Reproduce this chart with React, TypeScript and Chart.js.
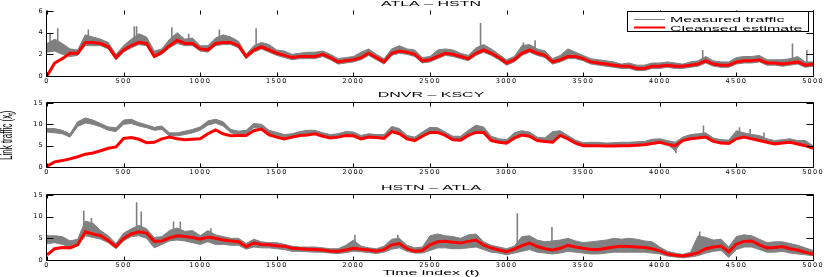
import React, { useEffect, useRef } from "react";
import { Chart, registerables } from "chart.js";

Chart.register(...registerables);

// ---------- data ----------
const TIME_STEP = 50;
const TIME = Array.from({ length: 101 }, (_, i) => i * TIME_STEP);
const X_TICKS = [0, 500, 1000, 1500, 2000, 2500, 3000, 3500, 4000, 4500, 5000];
const Y_TICKS_1 = [0, 2, 4, 6];
const Y_TICKS_2 = [0, 5, 10, 15];
const Y_TICKS_3 = [0, 5, 10, 15];

const TITLES = ["ATLA \u2013 HSTN", "DNVR \u2013 KSCY", "HSTN \u2013 ATLA"];
const LEGEND_LABELS = ["Measured traffic", "Cleansed estimate"];
const X_LABEL = "Time index (t)";
const Y_LABEL_MAIN = "Link traffic (x";
const Y_LABEL_SUB = "t";
const Y_LABEL_END = ")";

// ATLA - HSTN
const RED_1 = [
  0.0, 1.2, 1.6, 2.1, 2.1, 3.1, 3.1, 3.0, 2.7, 1.7,
  2.4, 2.8, 3.1, 3.0, 1.8, 2.2, 2.8, 3.3, 3.0, 3.0,
  2.5, 2.4, 3.0, 3.1, 3.1, 2.8, 1.8, 2.4, 2.7, 2.4,
  2.1, 1.9, 1.7, 1.8, 1.8, 1.8, 2.0, 1.7, 1.3, 1.4,
  1.5, 1.7, 2.1, 1.7, 1.3, 2.1, 2.3, 2.2, 2.0, 1.4,
  1.5, 1.8, 2.1, 2.0, 1.8, 1.6, 2.1, 2.4, 2.1, 1.7,
  1.2, 1.5, 2.1, 2.4, 2.1, 1.9, 1.3, 1.5, 1.8, 1.8,
  1.6, 1.3, 1.2, 1.1, 1.0, 0.9, 0.9, 0.7, 0.7, 0.9,
  0.9, 1.0, 0.9, 0.9, 1.0, 1.1, 1.4, 1.1, 1.0, 1.0,
  1.3, 1.4, 1.4, 1.5, 1.2, 1.2, 1.1, 1.2, 1.3, 1.0,
  1.1,
];
const LO_1 = [
  2.2, 2.3, 2.0, 1.8, 1.9, 2.8, 2.8, 2.8, 2.5, 1.5,
  2.2, 2.6, 2.9, 2.8, 1.7, 2.0, 2.6, 3.0, 2.8, 2.8,
  2.3, 2.2, 2.8, 2.9, 2.9, 2.6, 1.6, 2.2, 2.5, 2.2,
  1.9, 1.7, 1.5, 1.6, 1.6, 1.6, 1.8, 1.5, 1.1, 1.2,
  1.3, 1.5, 1.9, 1.5, 1.1, 1.9, 2.1, 2.0, 1.8, 1.2,
  1.3, 1.6, 1.9, 1.8, 1.6, 1.4, 1.9, 2.2, 1.9, 1.5,
  1.0, 1.3, 1.9, 2.2, 1.9, 1.7, 1.1, 1.3, 1.6, 1.6,
  1.4, 1.1, 1.0, 0.9, 0.8, 0.7, 0.7, 0.5, 0.5, 0.7,
  0.7, 0.8, 0.7, 0.7, 0.8, 0.9, 1.2, 0.9, 0.8, 0.8,
  1.1, 1.2, 1.2, 1.3, 1.0, 1.0, 0.9, 1.0, 1.1, 0.8,
  0.9,
];
const HI_1 = [
  3.0, 3.4, 3.0, 2.5, 2.4, 3.8, 3.6, 3.4, 3.1, 2.0,
  2.8, 3.4, 3.9, 3.6, 2.3, 2.5, 3.4, 4.0, 3.4, 3.5,
  2.8, 2.8, 3.5, 3.8, 3.6, 3.2, 2.0, 2.8, 3.1, 2.9,
  2.4, 2.3, 2.0, 2.1, 2.2, 2.2, 2.3, 2.0, 1.6, 1.7,
  1.8, 2.2, 2.5, 2.0, 1.6, 2.5, 2.8, 2.5, 2.4, 1.7,
  1.8, 2.4, 2.5, 2.4, 2.1, 1.9, 2.6, 2.9, 2.5, 2.0,
  1.5, 1.8, 2.8, 2.9, 2.5, 2.3, 1.6, 1.9, 2.5, 2.2,
  1.9, 1.6, 1.5, 1.4, 1.3, 1.1, 1.2, 1.0, 1.0, 1.2,
  1.2, 1.3, 1.2, 1.1, 1.3, 1.4, 1.8, 1.4, 1.3, 1.3,
  1.7, 1.8, 1.8, 1.9, 1.5, 1.5, 1.5, 1.6, 1.8, 1.3,
  1.3,
];
const SPIKE_T_1 = [20, 70, 270, 570, 585, 815, 925, 1125, 1365, 2830, 3110, 3186, 4280, 4866, 4960];
const SPIKE_BASE_1 = [2.4, 2.5, 3.0, 3.0, 3.0, 3.0, 3.0, 3.0, 2.6, 2.3, 2.2, 2.3, 1.4, 1.3, 1.1];
const SPIKE_TOP_1 = [3.9, 4.4, 4.3, 4.6, 4.6, 4.5, 3.9, 4.3, 4.4, 4.9, 3.1, 3.3, 2.4, 3.0, 2.4];

// DNVR - KSCY
const RED_2 = [
  0.2, 1.2, 1.5, 1.9, 2.4, 3.0, 3.3, 3.8, 4.4, 4.7,
  6.7, 6.9, 6.5, 5.7, 5.8, 6.6, 7.0, 6.6, 6.4, 6.5,
  6.6, 7.8, 8.7, 7.8, 7.3, 7.4, 7.4, 8.5, 8.9, 7.5,
  7.0, 6.6, 7.0, 7.4, 7.5, 7.8, 7.2, 6.8, 7.0, 7.4,
  7.3, 6.6, 7.0, 6.9, 6.7, 8.3, 7.8, 6.6, 6.2, 7.2,
  8.1, 8.1, 7.4, 6.4, 6.3, 7.4, 8.1, 8.1, 6.2, 5.8,
  5.6, 6.8, 7.5, 7.2, 6.2, 6.0, 5.8, 7.4, 6.6, 5.6,
  5.0, 5.0, 5.0, 4.9, 4.9, 5.0, 5.0, 5.1, 5.2, 5.5,
  5.8, 5.3, 5.0, 6.2, 6.6, 6.8, 7.0, 6.0, 5.6, 5.5,
  6.6, 7.0, 6.6, 6.2, 5.8, 5.4, 5.6, 5.8, 5.4, 5.0,
  4.4,
];
const LO_2 = [
  8.2, 8.0, 7.8, 7.0, 9.5, 10.3, 10.0, 9.4, 8.6, 8.3,
  10.0, 10.2, 9.6, 9.2, 8.6, 8.8, 7.2, 7.3, 7.6, 8.0,
  8.6, 9.8, 10.3, 9.6, 8.0, 7.6, 7.8, 9.2, 9.0, 7.8,
  7.3, 6.9, 7.0, 7.4, 7.5, 7.8, 7.2, 6.8, 7.0, 7.4,
  7.3, 6.6, 7.0, 6.9, 6.7, 8.3, 7.8, 6.6, 6.2, 7.2,
  8.1, 8.1, 7.4, 6.4, 6.3, 7.4, 8.1, 8.1, 6.2, 5.8,
  5.6, 6.8, 7.5, 7.2, 6.2, 6.0, 5.8, 7.4, 6.6, 5.6,
  5.0, 5.0, 5.0, 4.9, 4.9, 5.0, 5.0, 5.1, 5.2, 5.5,
  5.8, 5.3, 3.8, 6.2, 6.6, 6.8, 7.0, 6.0, 5.6, 5.5,
  6.6, 7.0, 6.6, 6.2, 5.8, 5.4, 5.6, 5.8, 5.4, 5.0,
  4.4,
];
const HI_2 = [
  9.0, 9.0, 8.6, 7.8, 10.6, 11.5, 11.0, 10.2, 9.4, 9.2,
  11.0, 11.2, 10.4, 9.9, 9.3, 9.6, 8.0, 8.0, 8.4, 8.8,
  9.4, 10.8, 11.2, 10.6, 8.8, 8.4, 8.6, 10.2, 10.0, 8.6,
  8.1, 7.6, 7.8, 8.3, 8.6, 8.6, 8.0, 7.6, 7.8, 8.3,
  8.2, 7.4, 7.8, 7.6, 7.6, 9.5, 9.0, 7.4, 7.0, 8.2,
  9.3, 9.2, 8.2, 7.2, 7.2, 8.6, 9.8, 9.4, 7.2, 6.6,
  6.4, 8.0, 8.5, 8.2, 7.0, 6.8, 8.3, 8.5, 7.4, 6.3,
  5.7, 5.8, 5.8, 5.6, 5.7, 5.8, 5.8, 5.9, 6.0, 6.5,
  6.6, 6.2, 5.8, 7.0, 7.6, 7.8, 8.0, 6.8, 6.4, 6.3,
  8.5, 8.0, 7.6, 7.4, 6.6, 6.2, 6.4, 6.6, 6.2, 6.2,
  5.0,
];
const SPIKE_T_2 = [4105, 4285, 4520, 4590, 4680];
const SPIKE_BASE_2 = [5.0, 7.5, 7.0, 7.0, 6.5];
const SPIKE_TOP_2 = [3.2, 9.7, 9.3, 8.9, 8.1];

// HSTN - ATLA
const RED_3 = [
  1.2, 2.6, 2.9, 2.8, 3.5, 6.5, 6.0, 5.6, 4.5, 3.1,
  5.0, 6.0, 6.5, 6.2, 4.3, 4.4, 5.1, 5.6, 5.4, 5.2,
  4.8, 5.3, 5.0, 4.6, 4.4, 4.2, 3.1, 3.9, 3.6, 3.5,
  3.3, 3.2, 2.7, 2.6, 2.5, 2.4, 2.3, 2.0, 2.0, 2.3,
  2.7, 2.5, 2.3, 2.0, 2.4, 3.5, 3.8, 2.6, 2.0, 2.2,
  3.5, 4.2, 4.3, 4.1, 3.9, 4.3, 4.6, 3.4, 2.8, 2.3,
  1.9, 2.5, 3.3, 3.9, 3.1, 2.6, 2.3, 2.7, 3.4, 3.0,
  2.7, 2.4, 2.4, 2.7, 3.0, 3.2, 3.1, 3.0, 2.9, 2.6,
  2.1, 1.4, 1.1, 0.9, 1.2, 1.7, 2.6, 3.0, 3.2, 1.9,
  3.7, 4.3, 4.4, 3.5, 2.8, 2.9, 3.1, 2.6, 2.3, 1.8,
  1.4,
];
const LO_3 = [
  3.8, 4.0, 3.6, 3.0, 3.4, 5.6, 5.2, 4.8, 4.0, 2.6,
  4.4, 5.4, 5.6, 5.0, 2.8, 3.6, 4.4, 4.6, 4.4, 4.0,
  3.6, 4.2, 3.6, 3.6, 3.4, 3.4, 2.5, 3.0, 2.8, 2.8,
  2.6, 2.4, 2.0, 2.0, 1.9, 1.8, 1.8, 1.6, 1.5, 1.7,
  2.0, 1.9, 1.7, 1.5, 1.8, 2.5, 2.8, 2.0, 1.6, 1.6,
  2.2, 2.8, 2.8, 2.6, 2.6, 2.8, 3.0, 2.4, 1.8, 1.6,
  1.2, 1.6, 2.0, 2.4, 1.8, 1.6, 1.4, 1.6, 2.0, 1.8,
  1.6, 1.4, 1.4, 1.6, 1.8, 1.8, 1.8, 1.8, 1.8, 1.6,
  1.4, 0.9, 0.7, 0.5, 0.7, 1.0, 1.6, 2.0, 2.2, 0.6,
  2.4, 3.0, 3.0, 2.4, 1.8, 1.8, 2.0, 1.6, 1.4, 1.2,
  1.0,
];
const HI_3 = [
  5.6, 5.6, 5.4, 4.4, 4.8, 9.0, 8.5, 6.8, 5.6, 3.8,
  6.2, 7.2, 8.0, 7.2, 5.2, 5.4, 6.8, 7.4, 6.6, 6.8,
  5.6, 6.8, 5.8, 5.4, 5.0, 5.0, 3.8, 4.8, 4.2, 4.0,
  4.0, 3.6, 3.2, 3.0, 3.0, 3.0, 2.8, 2.6, 2.6, 3.4,
  4.6, 3.2, 2.8, 2.6, 3.2, 4.8, 5.0, 3.4, 2.8, 3.0,
  5.6, 6.0, 5.6, 5.4, 5.0, 5.8, 6.0, 4.2, 3.4, 3.0,
  2.6, 3.2, 5.4, 5.6, 4.6, 4.2, 4.4, 4.6, 5.0, 4.4,
  4.0, 4.2, 4.4, 4.6, 5.0, 4.8, 5.0, 4.8, 4.4, 4.2,
  3.0, 2.0, 1.6, 1.3, 1.8, 5.6, 5.2, 4.6, 4.8, 3.0,
  5.4, 5.8, 5.6, 4.8, 4.0, 4.2, 4.2, 3.8, 3.4, 2.8,
  2.2,
];
const SPIKE_T_3 = [240, 290, 585, 615, 826, 870, 1070, 2010, 2290, 3070, 3296, 4261];
const SPIKE_BASE_3 = [5.0, 6.0, 6.0, 6.0, 5.0, 5.0, 5.0, 3.0, 3.5, 2.5, 2.3, 3.0];
const SPIKE_TOP_3 = [11.4, 9.7, 13.3, 11.2, 8.9, 8.9, 7.3, 5.8, 5.8, 10.8, 7.6, 6.6];

// ---------- styling ----------
const GRAY = "#808080";
const RED = "#ff0000";
const TEXT_FONT = '"Liberation Sans", Arial, sans-serif';
const TICK_FONT = "DejaVu Sans";
const STRETCH = 2.0;

type PanelCfg = {
  top: number;
  height: number;
  padTop: number;
  xScaleH: number;
  yMax: number;
  yTicks: number[];
  red: number[];
  lo: number[];
  hi: number[];
  spikeT: number[];
  spikeBase: number[];
  spikeTop: number[];
  title: string;
  titleY: number;
  topBorder: boolean;
  legend: boolean;
  yLabel: boolean;
  xLabel: boolean;
};

const PANELS: PanelCfg[] = [
  {
    top: 0, height: 88, padTop: 11, xScaleH: 12, yMax: 6, yTicks: Y_TICKS_1,
    red: RED_1, lo: LO_1, hi: HI_1, spikeT: SPIKE_T_1, spikeBase: SPIKE_BASE_1, spikeTop: SPIKE_TOP_1,
    title: TITLES[0], titleY: 5.5, topBorder: false, legend: true, yLabel: false, xLabel: false,
  },
  {
    top: 88, height: 92, padTop: 15, xScaleH: 13, yMax: 15, yTicks: Y_TICKS_2,
    red: RED_2, lo: LO_2, hi: HI_2, spikeT: SPIKE_T_2, spikeBase: SPIKE_BASE_2, spikeTop: SPIKE_TOP_2,
    title: TITLES[1], titleY: 9.3, topBorder: true, legend: false, yLabel: true, xLabel: false,
  },
  {
    top: 180, height: 97, padTop: 15, xScaleH: 17, yMax: 15, yTicks: Y_TICKS_3,
    red: RED_3, lo: LO_3, hi: HI_3, spikeT: SPIKE_T_3, spikeBase: SPIKE_BASE_3, spikeTop: SPIKE_TOP_3,
    title: TITLES[2], titleY: 10, topBorder: true, legend: false, yLabel: false, xLabel: true,
  },
];

function stretchText(
  ctx: CanvasRenderingContext2D, text: string, x: number, y: number,
  size: number, sx: number, align: CanvasTextAlign = "left"
) {
  ctx.save();
  ctx.font = `${size}px ${TEXT_FONT}`;
  (ctx as any).letterSpacing = "0px";
  ctx.fillStyle = "#000";
  ctx.textBaseline = "alphabetic";
  ctx.textAlign = align;
  ctx.translate(x, y);
  ctx.scale(sx, 1);
  ctx.fillText(text, 0, 0);
  ctx.restore();
}

function makeDeco(cfg: PanelCfg) {
  return {
    id: "deco",
    beforeDraw(chart: any) {
      (chart.ctx as any).letterSpacing = "1.3px";
    },
    afterDraw(chart: any) {
      const ctx: CanvasRenderingContext2D = chart.ctx;
      const a = chart.chartArea;
      const xs = chart.scales.x;
      const ys = chart.scales.y;
      ctx.save();
      (ctx as any).letterSpacing = "0px";
      const L = Math.round(a.left) - 0.5;
      const R = Math.round(a.right) + 0.5;
      const T = Math.round(a.top) - 0.5;
      const B = Math.round(a.bottom) + 0.5;
      ctx.strokeStyle = "#000";
      ctx.lineWidth = 1;
      ctx.beginPath();
      ctx.moveTo(L, T);
      ctx.lineTo(L, B);
      ctx.lineTo(R, B);
      ctx.lineTo(R, T);
      if (cfg.topBorder) ctx.lineTo(L, T);
      ctx.stroke();
      ctx.beginPath();
      for (const v of X_TICKS) {
        const px = Math.round(xs.getPixelForValue(v)) + 0.5;
        ctx.moveTo(px, B);
        ctx.lineTo(px, B - 4);
        ctx.moveTo(px, T);
        ctx.lineTo(px, T + 4);
      }
      for (const v of cfg.yTicks) {
        const py = Math.round(ys.getPixelForValue(v)) + 0.5;
        ctx.moveTo(L, py);
        ctx.lineTo(L + 7, py);
        ctx.moveTo(R, py);
        ctx.lineTo(R - 7, py);
      }
      ctx.stroke();
      ctx.restore();

      // title
      stretchText(ctx, cfg.title, (a.left + a.right) / 2 + 1, cfg.titleY, 8, STRETCH, "center");

      if (cfg.legend) {
        ctx.save();
        ctx.fillStyle = "#fff";
        ctx.fillRect(627.5, 11.5, 181, 20);
        ctx.strokeStyle = "#000";
        ctx.lineWidth = 1;
        ctx.strokeRect(627.5, 11.5, 181, 20);
        ctx.strokeStyle = GRAY;
        ctx.lineWidth = 1;
        ctx.beginPath();
        ctx.moveTo(634, 19.5);
        ctx.lineTo(665, 19.5);
        ctx.stroke();
        ctx.strokeStyle = RED;
        ctx.lineWidth = 2;
        ctx.beginPath();
        ctx.moveTo(634, 27.5);
        ctx.lineTo(665, 27.5);
        ctx.stroke();
        ctx.restore();
        stretchText(ctx, LEGEND_LABELS[0], 670, 22, 8, 2.0, "left");
        stretchText(ctx, LEGEND_LABELS[1], 670, 30.5, 8, 2.0, "left");
      }

      if (cfg.xLabel) {
        stretchText(ctx, X_LABEL, (a.left + a.right) / 2 + 1, cfg.height - 2, 8, STRETCH, "center");
      }

      if (cfg.yLabel) {
        ctx.save();
        ctx.fillStyle = "#000";
        (ctx as any).letterSpacing = "0px";
        ctx.translate(12, 72);
        ctx.rotate(-Math.PI / 2);
        ctx.scale(1, STRETCH);
        ctx.textAlign = "left";
        ctx.textBaseline = "alphabetic";
        ctx.font = `8px ${TEXT_FONT}`;
        ctx.fillText(Y_LABEL_MAIN, 0, 0);
        const w1 = ctx.measureText(Y_LABEL_MAIN).width;
        ctx.font = `6px ${TEXT_FONT}`;
        ctx.fillText(Y_LABEL_SUB, w1, 2);
        const w2 = ctx.measureText(Y_LABEL_SUB).width;
        ctx.font = `8px ${TEXT_FONT}`;
        ctx.fillText(Y_LABEL_END, w1 + w2, 0);
        ctx.restore();
      }
    },
  };
}

function Panel({ cfg }: { cfg: PanelCfg }) {
  const ref = useRef<HTMLCanvasElement>(null);
  useEffect(() => {
    const canvas = ref.current;
    if (!canvas) return;
    const pts = (arr: number[]) => TIME.map((t, i) => ({ x: t, y: arr[i] }));
    const spikes: any[] = [];
    cfg.spikeT.forEach((t, i) => {
      spikes.push({ x: t, y: cfg.spikeBase[i] });
      spikes.push({ x: t, y: cfg.spikeTop[i] });
      spikes.push({ x: t, y: null });
    });
    const tickFont = { family: TICK_FONT, size: 6.5 };
    const chart = new Chart(canvas, {
      type: "line",
      data: {
        datasets: [
          {
            label: LEGEND_LABELS[1],
            data: pts(cfg.red),
            borderColor: RED,
            borderWidth: 3,
            pointRadius: 0,
            fill: false,
            tension: 0,
          },
          {
            label: LEGEND_LABELS[0],
            data: pts(cfg.hi),
            borderColor: GRAY,
            backgroundColor: GRAY,
            borderWidth: 1,
            pointRadius: 0,
            fill: "+1",
            tension: 0,
          },
          {
            label: LEGEND_LABELS[0] + " (low)",
            data: pts(cfg.lo),
            borderColor: GRAY,
            borderWidth: 1,
            pointRadius: 0,
            fill: false,
            tension: 0,
          },
          {
            label: LEGEND_LABELS[0] + " (peaks)",
            data: spikes,
            borderColor: GRAY,
            borderWidth: 1.6,
            pointRadius: 0,
            fill: false,
            spanGaps: false,
            tension: 0,
          },
        ],
      },
      options: {
        responsive: false,
        animation: false,
        devicePixelRatio: 1,
        events: [],
        layout: { padding: { left: 0, right: 17, top: cfg.padTop, bottom: 0 } },
        plugins: {
          legend: { display: false },
          tooltip: { enabled: false },
          title: { display: false },
        },
        scales: {
          x: {
            type: "linear",
            min: 0,
            max: 5000,
            grid: { display: false, drawTicks: false, tickLength: 0 },
            border: { display: false },
            ticks: {
              font: tickFont, color: "#000", padding: 1, maxRotation: 0, autoSkip: false,
              callback: (v: any) => String(v),
            },
            afterBuildTicks: (s: any) => {
              s.ticks = X_TICKS.map((v) => ({ value: v }));
            },
            afterFit: (s: any) => {
              s.height = cfg.xScaleH;
            },
          },
          y: {
            type: "linear",
            min: 0,
            max: cfg.yMax,
            grid: { display: false, drawTicks: false, tickLength: 0 },
            border: { display: false },
            ticks: { font: tickFont, color: "#000", padding: 3, callback: (v: any) => String(v) },
            afterBuildTicks: (s: any) => {
              s.ticks = cfg.yTicks.map((v) => ({ value: v }));
            },
            afterFit: (s: any) => {
              s.width = 47;
            },
          },
        },
      } as any,
      plugins: [makeDeco(cfg)],
    });
    return () => chart.destroy();
  }, [cfg]);
  return (
    <canvas
      ref={ref}
      width={830}
      height={cfg.height}
      style={{ position: "absolute", left: 0, top: cfg.top, width: 830, height: cfg.height }}
    />
  );
}

export default function App() {
  return (
    <div style={{ position: "absolute", left: 0, top: 0, width: 830, height: 277, background: "#fff", overflow: "hidden" }}>
      {PANELS.map((p, i) => (
        <Panel key={i} cfg={p} />
      ))}
    </div>
  );
}
